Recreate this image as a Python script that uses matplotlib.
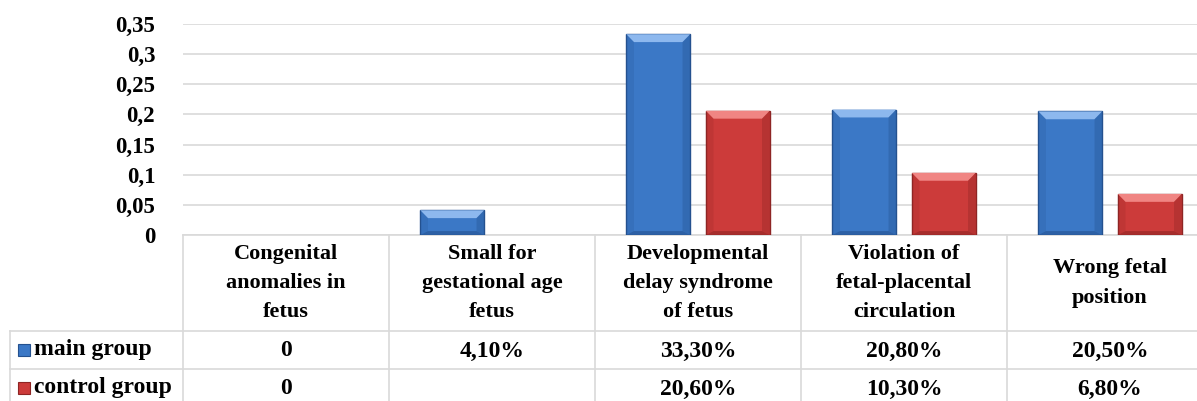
import numpy as np
import matplotlib.pyplot as plt
from matplotlib.transforms import blended_transform_factory
from matplotlib.patches import Rectangle

categories = ["Congenital\nanomalies in\nfetus", "Small for\ngestational age\nfetus",
              "Developmental\ndelay syndrome\nof fetus", "Violation of\nfetal-placental\ncirculation",
              "Wrong fetal\nposition"]
main_group = [0, 0.041, 0.333, 0.208, 0.205]
control_group = [0, np.nan, 0.206, 0.103, 0.068]
main_labels = ["0", "4,10%", "33,30%", "20,80%", "20,50%"]
control_labels = ["0", "", "20,60%", "10,30%", "6,80%"]
series_names = ["main group", "control group"]
yticks = [0, 0.05, 0.1, 0.15, 0.2, 0.25, 0.3, 0.35]
ytick_labels = ["0", "0,05", "0,1", "0,15", "0,2", "0,25", "0,3", "0,35"]

W, H = 1197, 401
plt.rcParams['font.family'] = ['Liberation Serif', 'DejaVu Serif']
plt.rcParams['font.weight'] = 'bold'
fig = plt.figure(figsize=(W / 100, H / 100), dpi=100)

def fy(py):
    return 1 - py / H

col_w = 206
left_px = 183
ax = fig.add_axes([left_px / W, fy(235), 5 * col_w / W, (235 - 24) / H])

blue = "#3B78C6"
red = "#CC3B3A"
blue_dark = "#24518F"
red_dark = "#8E2524"
blue_light = "#8DB8EE"
red_light = "#F08583"

x = np.arange(len(categories))
bw = 0.31
off = 0.193

def bevel_bars(xs, vals, color, dark, light):
    bars = ax.bar(xs, vals, width=bw, color=color, edgecolor=dark, linewidth=1.0, zorder=3)
    for b, v in zip(bars, vals):
        if not np.isfinite(v) or v <= 0:
            b.set_linewidth(0)
            continue
        x0 = b.get_x()
        cap = min(0.013, v * 0.4)
        side = bw * 0.12
        # top highlight trapezoid
        ax.fill([x0, x0 + bw, x0 + bw - side, x0 + side],
                [v, v, v - cap, v - cap], color=light, zorder=4, lw=0)
        # darker bottom strip
        ax.fill([x0, x0 + bw, x0 + bw - side, x0 + side],
                [0, 0, cap * 0.5, cap * 0.5], color=dark, alpha=0.6, zorder=4, lw=0)
        # side shading
        ax.fill([x0 + bw, x0 + bw - side, x0 + bw - side, x0 + bw],
                [v, v - cap, cap * 0.5, 0], color=dark, alpha=0.35, zorder=4, lw=0)
        ax.fill([x0, x0 + side, x0 + side, x0],
                [v, v - cap, cap * 0.5, 0], color=dark, alpha=0.2, zorder=4, lw=0)
    return bars

bevel_bars(x - off, main_group, blue, blue_dark, blue_light)
bevel_bars(x + off, control_group, red, red_dark, red_light)

ax.set_xlim(-0.5, len(categories) - 0.5)
ax.set_ylim(0, 0.35)
ax.set_yticks(yticks)
ax.set_yticklabels(ytick_labels, fontsize=16.5, fontweight='bold')
ax.tick_params(axis='y', length=0, pad=20)
ax.set_xticks([])
ax.grid(axis='y', color="#D9D9D9", linewidth=1.2, zorder=0)
ax.set_axisbelow(True)
for s in ax.spines.values():
    s.set_visible(False)

# data table under the chart
tr = blended_transform_factory(ax.transData, fig.transFigure)
line_c = "#D9D9D9"
rows_px = [235, 331, 369, 412]
for i, py in enumerate(rows_px):
    x_start = -0.5 if i == 0 else -0.5 - (left_px - 10) / col_w
    ax.plot([x_start, len(categories) - 0.5], [fy(py), fy(py)], transform=tr,
            color=line_c, lw=1.2, clip_on=False, zorder=1)
for k in range(len(categories) + 1):
    ax.plot([k - 0.5, k - 0.5], [fy(235), fy(412)], transform=tr,
            color=line_c, lw=1.2, clip_on=False, zorder=1)
ax.plot([-0.5 - (left_px - 10) / col_w] * 2, [fy(331), fy(412)], transform=tr,
        color=line_c, lw=1.2, clip_on=False, zorder=1)

for i, c in enumerate(categories):
    ax.text(i, fy(283), c, transform=tr, ha='center', va='center', fontsize=16,
            fontweight='bold', linespacing=1.6)
    ax.text(i, fy(351), main_labels[i], transform=tr, ha='center', va='center',
            fontsize=17, fontweight='bold')
    ax.text(i, fy(389), control_labels[i], transform=tr, ha='center', va='center',
            fontsize=17, fontweight='bold')

for name, py, col, dk in [(series_names[0], 350, blue, blue_dark), (series_names[1], 388, red, red_dark)]:
    fig.patches.append(Rectangle((18 / W, fy(py + 6)), 12 / W, 12 / H, transform=fig.transFigure,
                                 facecolor=col, edgecolor=dk, lw=0.8))
    fig.text(34 / W, fy(py), name, ha='left', va='center', fontsize=17, fontweight='bold')

fig.savefig("out.png", dpi=100)
